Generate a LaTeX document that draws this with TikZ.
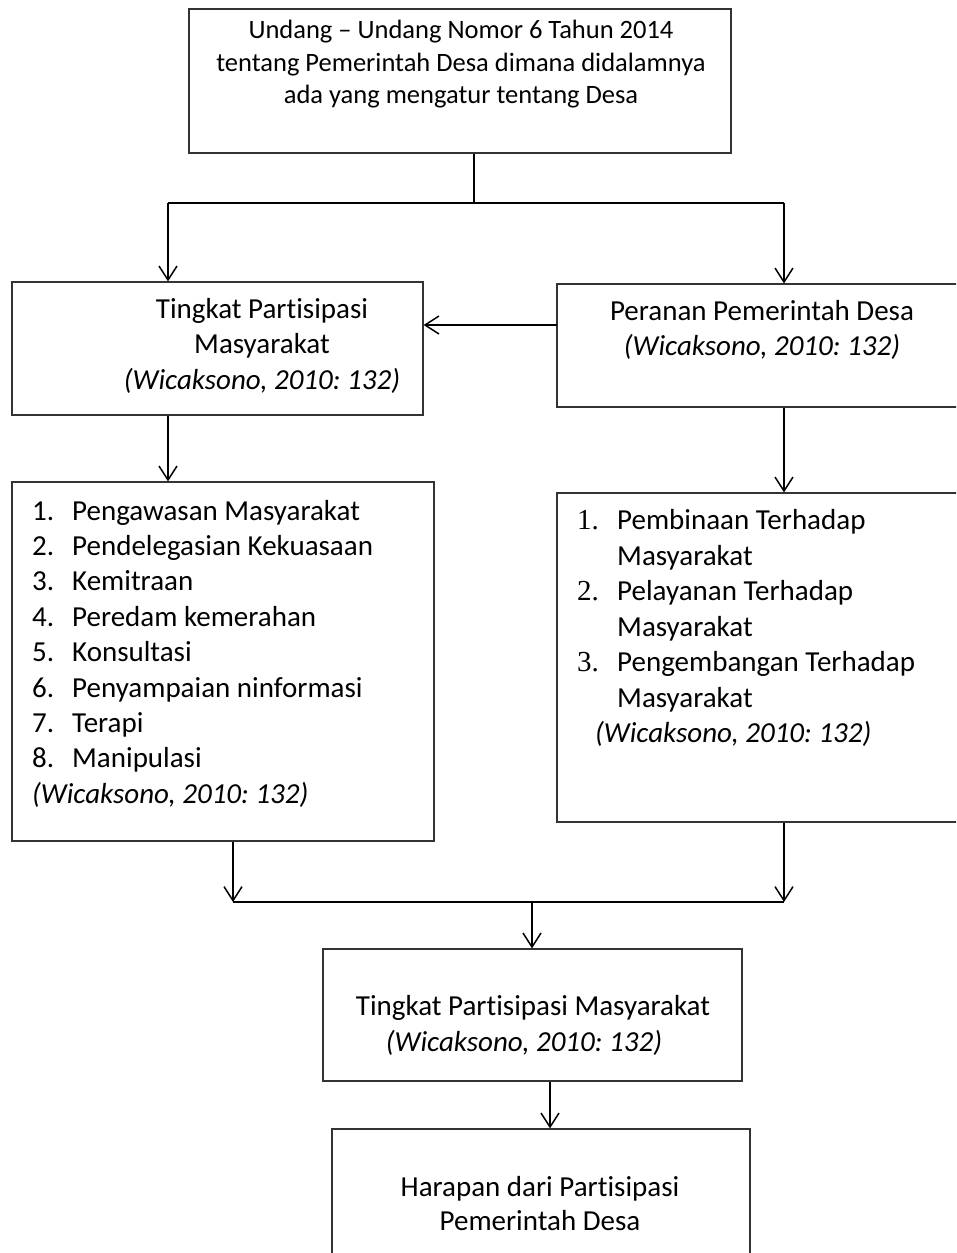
\documentclass[tikz,border=0pt]{standalone}
\usepackage{fontspec}
\setmainfont{Carlito}[RawFeature={-liga;-clig;-dlig;-calt}]
\newfontfamily\numfont{Liberation Serif}
\usetikzlibrary{arrows.meta}
\frenchspacing
\tikzset{
  boxst/.style={draw=black!80, line width=1.2pt, fill=none, inner sep=0pt},
  conn/.style={draw=black, line width=1.5pt},
  arr/.style={conn, -{Straight Barb[length=14pt,width=18pt,line width=1.5pt]}},
  txt/.style={inner sep=0pt, anchor=base, font=\fontsize{29}{35}\selectfont},
  txtl/.style={inner sep=0pt, anchor=base west, font=\fontsize{29}{35}\selectfont},
  toptxt/.style={inner sep=0pt, anchor=base, font=\fontsize{26.5}{32}\selectfont},
}
\begin{document}
\begin{tikzpicture}[x=1pt,y=-1pt]
\useasboundingbox (0,0) rectangle (956,1253);
\clip (0,0) rectangle (956,1253);
\fill[white] (0,0) rectangle (956,1253);
% boxes
\node[boxst, minimum width=542pt, minimum height=144pt] (top) at (460,81) {};
\node[boxst, minimum width=411pt, minimum height=133pt] (tl) at (217.5,348.5) {};
\node[boxst, minimum width=413pt, minimum height=123pt] (tr) at (763.5,345.5) {};
\node[boxst, minimum width=422pt, minimum height=359pt] (ml) at (223,661.5) {};
\node[boxst, minimum width=413pt, minimum height=329pt] (mr) at (763.5,657.5) {};
\node[boxst, minimum width=419pt, minimum height=132pt] (b4) at (532.5,1015) {};
\node[boxst, minimum width=418pt, minimum height=141pt] (b5) at (541,1199.5) {};
% top text
\node[toptxt] (t1) at (461,38) {Undang -- Undang Nomor 6 Tahun 2014};
\node[toptxt] (t2) at (461,71) {tentang Pemerintah Desa dimana didalamnya};
\node[toptxt] (t3) at (461,103) {ada yang mengatur tentang Desa};
% top-left
\node[txt] (tl1) at (262,318) {Tingkat Partisipasi};
\node[txt] (tl2) at (262,353) {Masyarakat};
\node[txt] (tl3) at (262,389) {\itshape (Wicaksono, 2010: 132)};
% top-right
\node[txt] (tr1) at (762,320) {Peranan Pemerintah Desa};
\node[txt] (tr2) at (762,355) {\itshape (Wicaksono, 2010: 132)};
% left list
\foreach \n/\t/\y in {1/Pengawasan Masyarakat/520,2/Pendelegasian Kekuasaan/555.4,3/Kemitraan/590.8,4/Peredam kemerahan/626.2,5/Konsultasi/661.6,6/Penyampaian ninformasi/697,7/Terapi/732.4,8/Manipulasi/767.8}{
  \node[txtl] (ln\n) at (32,\y) {\n.};
  \node[txtl] (lt\n) at (72,\y) {\t};
}
\node[txtl] (lc) at (32,803) {\itshape (Wicaksono, 2010: 132)};
% right list
\node[txtl, font=\fontsize{29}{35}\numfont] (rn1) at (577,529) {1.};
\node[txtl] (rt1) at (617,529) {Pembinaan Terhadap};
\node[txtl] (rt1b) at (617,565) {Masyarakat};
\node[txtl, font=\fontsize{29}{35}\numfont] (rn2) at (577,600) {2.};
\node[txtl] (rt2) at (617,600) {Pelayanan Terhadap};
\node[txtl] (rt2b) at (617,636) {Masyarakat};
\node[txtl, font=\fontsize{29}{35}\numfont] (rn3) at (577,671) {3.};
\node[txtl] (rt3) at (617,671) {Pengembangan Terhadap};
\node[txtl] (rt3b) at (617,707) {Masyarakat};
\node[txtl] (rc) at (595,742) {\itshape (Wicaksono, 2010: 132)};
% box 4
\node[txt] (b41) at (533,1015) {Tingkat Partisipasi Masyarakat};
\node[txt] (b42) at (524,1051) {\itshape (Wicaksono, 2010: 132)};
% box 5
\node[txt] (b51) at (540,1196) {Harapan dari Partisipasi};
\node[txt] (b52) at (540,1230) {Pemerintah Desa};
% connectors
\coordinate (jt) at (474,203);
\coordinate (jl) at (168,203);
\coordinate (jr) at (784,203);
\draw[conn] (top.south -| jt) -- (jt);
\draw[conn] (jl) -- (jr);
\draw[arr] (jl) -- (jl |- tl.north);
\draw[arr] (jr) -- (jr |- tr.north);
\coordinate (ah) at (557,325);
\draw[arr] (ah) -- (ah -| tl.east);
\draw[arr] (tl.south -| jl) -- (ml.north -| jl);
\draw[arr] (tr.south -| jr) -- (mr.north -| jr);
\coordinate (jbl) at (233,902);
\coordinate (jbr) at (784,902);
\coordinate (jbm) at (532,902);
\draw[arr] (ml.south -| jbl) -- (jbl);
\draw[arr] (mr.south -| jbr) -- (jbr);
\draw[conn] (jbl) -- (jbr);
\draw[arr] (jbm) -- (jbm |- b4.north);
\coordinate (j4) at (550,1081);
\draw[arr] (b4.south -| j4) -- (j4 |- b5.north);
\end{tikzpicture}
\end{document}
